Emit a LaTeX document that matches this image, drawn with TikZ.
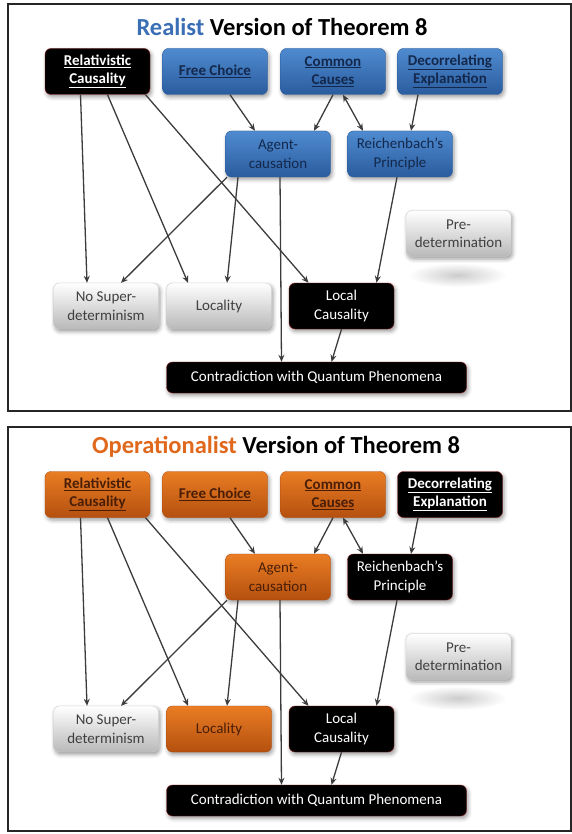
\documentclass[tikz,border=0pt]{standalone}
\usepackage{fontspec}
\setmainfont{Carlito}
\usetikzlibrary{arrows.meta,shadows.blur}
\definecolor{realblue}{HTML}{3A6EB5}
\definecolor{opsorange}{HTML}{E0681C}
\definecolor{blueT}{HTML}{4F8BD0}
\definecolor{blueB}{HTML}{2A5C9E}
\definecolor{navytext}{HTML}{13284C}
\definecolor{orangeT}{HTML}{EA7D24}
\definecolor{orangeB}{HTML}{B4500F}
\definecolor{browntext}{HTML}{4A1E06}
\definecolor{redline}{HTML}{8E1C1C}
\definecolor{arrowgray}{HTML}{3C3C3C}

\begin{document}
\begin{tikzpicture}[
    x=1pt, y=-1pt,
    box/.style={rectangle, rounded corners=6pt, minimum width=105pt, minimum height=46pt, align=center, font=\fontsize{15}{18.5}\selectfont, blur shadow={shadow xshift=1.5pt, shadow yshift=-2.5pt, shadow blur radius=4pt}},
    bluebox/.style={box, top color=blueT, bottom color=blueB, draw=blueB, text=navytext},
    orangebox/.style={box, top color=orangeT, bottom color=orangeB, draw=orangeB, text=browntext},
    blackbox/.style={box, fill=black, draw=redline, text=white},
    graybox/.style={box, top color=white, bottom color=gray!55, draw=gray!40, text=black!75},
    toprow/.style={font=\fontsize{15}{18.5}\selectfont\bfseries},
    title/.style={font=\fontsize{24.5}{28}\selectfont\bfseries},
    frame/.style={line width=1.3pt, draw=black!85},
    arr/.style={-{Stealth[length=7pt,width=6pt]}, line width=1.3pt, draw=arrowgray},
    arrboth/.style={{Stealth[length=7pt,width=6pt]}-{Stealth[length=7pt,width=6pt]}, line width=1.3pt, draw=arrowgray}
]
\useasboundingbox (0,0) rectangle (572,834);

% realist version
\draw[frame] (8,4) rectangle (571,411);
\node[title] (title1) at (282,27) {\textcolor{realblue}{Realist} Version of Theorem 8};
\node[blackbox, toprow] (rc1) at (97.5,71.5) {\underline{Relativistic}\\\underline{Causality}};
\node[bluebox, toprow] (fc1) at (215,71.5) {\underline{Free Choice}};
\node[bluebox, toprow] (cc1) at (333,71.5) {\underline{Common}\\\underline{Causes}};
\node[bluebox, toprow] (de1) at (450,71.5) {\underline{Decorrelating}\\\underline{Explanation}};
\node[bluebox] (ac1) at (278,154) {Agent-\\causation};
\node[bluebox] (rp1) at (400,154) {Reichenbach's\\Principle};
\node[graybox] (pd1) at (458.5,233.5) {Pre-\\determination};
\shade[inner color=gray!40, outer color=white, rounded corners=8pt] (408,263) rectangle (507,287);
\node[graybox] (ns1) at (106,306) {No Super-\\determinism};
\node[graybox] (lo1) at (219,306) {Locality};
\node[blackbox] (lc1) at (341.5,306) {Local\\Causality};
\node[blackbox, minimum width=300pt, minimum height=31pt] (cq1) at (316.5,377.5) {Contradiction with Quantum Phenomena};

\draw[arr] ([xshift=-17pt]rc1.south) -- ([xshift=-19pt]ns1.north);
\draw[arr] ([xshift=10pt]rc1.south) -- ([xshift=-31pt]lo1.north);
\draw[arr] ([xshift=48pt]rc1.south) -- ([xshift=-33pt]lc1.north);
\draw[arr] ([xshift=15pt]fc1.south) -- ([xshift=-23pt]ac1.north);
\draw[arr] (cc1.south) -- ([xshift=36pt]ac1.north);
\draw[arrboth] ([xshift=10pt]cc1.south) -- ([xshift=-37pt]rp1.north);
\draw[arr] ([xshift=-32pt]de1.south) -- ([xshift=11pt]rp1.north);
\draw[arr] ([xshift=-51pt]ac1.south) -- ([xshift=15pt]ns1.north);
\draw[arr] ([xshift=-40pt]ac1.south) -- ([xshift=8pt]lo1.north);
\draw[arr] ([xshift=2pt]ac1.south) -- ([xshift=-35pt]cq1.north);
\draw[arr] ([xshift=-3pt]rp1.south) -- ([xshift=35pt]lc1.north);
\draw[arr] (lc1.south) -- ([xshift=15pt]cq1.north);

% operationalist version
\draw[frame] (8,427) rectangle (571,831);
\node[title] (title2) at (276,447) {\textcolor{opsorange}{Operationalist} Version of Theorem 8};
\node[orangebox, toprow] (rc2) at (97.5,494.5) {\underline{Relativistic}\\\underline{Causality}};
\node[orangebox, toprow] (fc2) at (215,494.5) {\underline{Free Choice}};
\node[orangebox, toprow] (cc2) at (333,494.5) {\underline{Common}\\\underline{Causes}};
\node[blackbox, toprow] (de2) at (450,494.5) {\underline{Decorrelating}\\\underline{Explanation}};
\node[orangebox] (ac2) at (278,577) {Agent-\\causation};
\node[blackbox] (rp2) at (400,577) {Reichenbach's\\Principle};
\node[graybox] (pd2) at (458.5,656.5) {Pre-\\determination};
\shade[inner color=gray!40, outer color=white, rounded corners=8pt] (408,686) rectangle (507,710);
\node[graybox] (ns2) at (106,729) {No Super-\\determinism};
\node[orangebox] (lo2) at (219,729) {Locality};
\node[blackbox] (lc2) at (341.5,729) {Local\\Causality};
\node[blackbox, minimum width=300pt, minimum height=31pt] (cq2) at (316.5,800.5) {Contradiction with Quantum Phenomena};

\draw[arr] ([xshift=-17pt]rc2.south) -- ([xshift=-19pt]ns2.north);
\draw[arr] ([xshift=10pt]rc2.south) -- ([xshift=-31pt]lo2.north);
\draw[arr] ([xshift=48pt]rc2.south) -- ([xshift=-33pt]lc2.north);
\draw[arr] ([xshift=15pt]fc2.south) -- ([xshift=-23pt]ac2.north);
\draw[arr] (cc2.south) -- ([xshift=36pt]ac2.north);
\draw[arrboth] ([xshift=10pt]cc2.south) -- ([xshift=-37pt]rp2.north);
\draw[arr] ([xshift=-32pt]de2.south) -- ([xshift=11pt]rp2.north);
\draw[arr] ([xshift=-51pt]ac2.south) -- ([xshift=15pt]ns2.north);
\draw[arr] ([xshift=-40pt]ac2.south) -- ([xshift=8pt]lo2.north);
\draw[arr] ([xshift=2pt]ac2.south) -- ([xshift=-35pt]cq2.north);
\draw[arr] ([xshift=-3pt]rp2.south) -- ([xshift=35pt]lc2.north);
\draw[arr] (lc2.south) -- ([xshift=15pt]cq2.north);
\end{tikzpicture}
\end{document}
